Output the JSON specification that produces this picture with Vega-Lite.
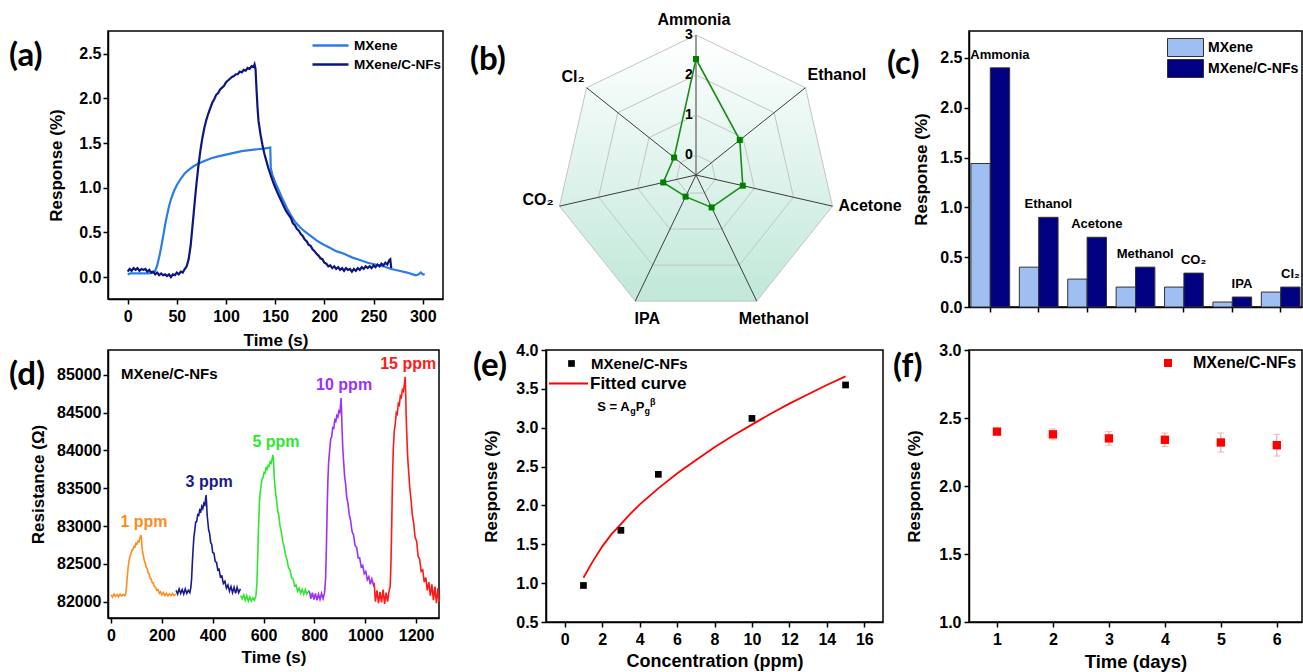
{
"$schema": "https://vega.github.io/schema/vega-lite/v6.json",
"background": "white",
"padding": {"left": 8, "top": 12, "right": 0, "bottom": 0},
"autosize": {"type": "pad"},
"columns": 5,
"spacing": {"row": 43, "column": 0},
"bounds": "flush",
"resolve": {"scale": {"color": "independent", "fill": "independent", "stroke": "independent"}, "legend": {"color": "independent", "fill": "independent", "stroke": "independent"}},
"config": {
  "font": "Liberation Sans",
  "view": {"stroke": "black", "strokeWidth": 1.5},
  "axis": {"grid": false, "domainColor": "black", "domainWidth": 1.5, "tickColor": "black", "tickWidth": 1.5, "tickSize": 5, "labelFont": "Liberation Sans", "labelFontWeight": "bold", "labelFontSize": 16, "labelColor": "black", "labelFlush": false, "labelOverlap": false, "titleFont": "Liberation Sans", "titleFontWeight": "bold", "titleFontSize": 17, "titleColor": "black"},
  "legend": {"labelFont": "Liberation Sans", "labelFontWeight": "bold", "labelColor": "black", "padding": 0},
  "title": {"font": "Lato", "fontSize": 33, "fontWeight": "bold", "color": "black", "anchor": "start", "frame": "group", "orient": "top", "offset": 0, "baseline": "middle"}
},
"datasets": {
  "gases": [
    {"gas": "Ammonia", "label": "Ammonia", "idx": 0, "MXene": 1.44, "MXene/C-NFs": 2.4},
    {"gas": "Ethanol", "label": "Ethanol", "idx": 1, "MXene": 0.40, "MXene/C-NFs": 0.9},
    {"gas": "Acetone", "label": "Acetone", "idx": 2, "MXene": 0.28, "MXene/C-NFs": 0.7},
    {"gas": "Methanol", "label": "Methanol", "idx": 3, "MXene": 0.20, "MXene/C-NFs": 0.4},
    {"gas": "CO2", "label": "CO₂", "idx": 5, "MXene": 0.20, "MXene/C-NFs": 0.34},
    {"gas": "IPA", "label": "IPA", "idx": 4, "MXene": 0.05, "MXene/C-NFs": 0.1},
    {"gas": "Cl2", "label": "Cl₂", "idx": 6, "MXene": 0.15, "MXene/C-NFs": 0.2}
  ],
  "rings": [
    {"level": 0, "idx": [0,1,2,3,4,5,6]},
    {"level": 1, "idx": [0,1,2,3,4,5,6]},
    {"level": 2, "idx": [0,1,2,3,4,5,6]},
    {"level": 3, "idx": [0,1,2,3,4,5,6]}
  ],
  "aresp": [
    {"t":0,"v":0.03,"s":"MXene"},{"t":3,"v":0.04,"s":"MXene"},{"t":6,"v":0.04,"s":"MXene"},{"t":10,"v":0.04,"s":"MXene"},{"t":14,"v":0.04,"s":"MXene"},{"t":18,"v":0.04,"s":"MXene"},{"t":22,"v":0.04,"s":"MXene"},{"t":26,"v":0.05,"s":"MXene"},{"t":28,"v":0.07,"s":"MXene"},{"t":30,"v":0.13,"s":"MXene"},{"t":32,"v":0.22,"s":"MXene"},{"t":34,"v":0.33,"s":"MXene"},{"t":36,"v":0.45,"s":"MXene"},{"t":38,"v":0.58,"s":"MXene"},{"t":40,"v":0.69,"s":"MXene"},{"t":42,"v":0.79,"s":"MXene"},{"t":44,"v":0.87,"s":"MXene"},{"t":47,"v":0.96,"s":"MXene"},{"t":50,"v":1.03,"s":"MXene"},{"t":54,"v":1.10,"s":"MXene"},{"t":58,"v":1.16,"s":"MXene"},{"t":62,"v":1.20,"s":"MXene"},{"t":67,"v":1.24,"s":"MXene"},{"t":72,"v":1.27,"s":"MXene"},{"t":78,"v":1.30,"s":"MXene"},{"t":85,"v":1.33,"s":"MXene"},{"t":92,"v":1.35,"s":"MXene"},{"t":100,"v":1.37,"s":"MXene"},{"t":108,"v":1.39,"s":"MXene"},{"t":116,"v":1.41,"s":"MXene"},{"t":124,"v":1.42,"s":"MXene"},{"t":132,"v":1.43,"s":"MXene"},{"t":140,"v":1.44,"s":"MXene"},{"t":145,"v":1.45,"s":"MXene"},{"t":145.5,"v":1.22,"s":"MXene"},{"t":147,"v":1.15,"s":"MXene"},{"t":150,"v":1.06,"s":"MXene"},{"t":154,"v":0.96,"s":"MXene"},{"t":158,"v":0.86,"s":"MXene"},{"t":162,"v":0.77,"s":"MXene"},{"t":166,"v":0.69,"s":"MXene"},{"t":170,"v":0.62,"s":"MXene"},{"t":175,"v":0.56,"s":"MXene"},{"t":180,"v":0.51,"s":"MXene"},{"t":186,"v":0.46,"s":"MXene"},{"t":192,"v":0.41,"s":"MXene"},{"t":198,"v":0.37,"s":"MXene"},{"t":205,"v":0.33,"s":"MXene"},{"t":212,"v":0.29,"s":"MXene"},{"t":220,"v":0.26,"s":"MXene"},{"t":228,"v":0.22,"s":"MXene"},{"t":236,"v":0.19,"s":"MXene"},{"t":244,"v":0.16,"s":"MXene"},{"t":252,"v":0.14,"s":"MXene"},{"t":260,"v":0.12,"s":"MXene"},{"t":268,"v":0.09,"s":"MXene"},{"t":276,"v":0.07,"s":"MXene"},{"t":284,"v":0.05,"s":"MXene"},{"t":290,"v":0.03,"s":"MXene"},{"t":293,"v":0.02,"s":"MXene"},{"t":296,"v":0.03,"s":"MXene"},{"t":298,"v":0.05,"s":"MXene"},{"t":300,"v":0.03,"s":"MXene"},{"t":302,"v":0.03,"s":"MXene"},
    {"t":0,"v":0.06,"s":"MXene/C-NFs"},{"t":2,"v":0.09,"s":"MXene/C-NFs"},{"t":4,"v":0.07,"s":"MXene/C-NFs"},{"t":6,"v":0.10,"s":"MXene/C-NFs"},{"t":8,"v":0.08,"s":"MXene/C-NFs"},{"t":10,"v":0.10,"s":"MXene/C-NFs"},{"t":12,"v":0.07,"s":"MXene/C-NFs"},{"t":14,"v":0.09,"s":"MXene/C-NFs"},{"t":16,"v":0.08,"s":"MXene/C-NFs"},{"t":18,"v":0.09,"s":"MXene/C-NFs"},{"t":20,"v":0.06,"s":"MXene/C-NFs"},{"t":22,"v":0.08,"s":"MXene/C-NFs"},{"t":24,"v":0.05,"s":"MXene/C-NFs"},{"t":26,"v":0.06,"s":"MXene/C-NFs"},{"t":28,"v":0.03,"s":"MXene/C-NFs"},{"t":30,"v":0.05,"s":"MXene/C-NFs"},{"t":32,"v":0.02,"s":"MXene/C-NFs"},{"t":34,"v":0.04,"s":"MXene/C-NFs"},{"t":36,"v":0.02,"s":"MXene/C-NFs"},{"t":38,"v":0.03,"s":"MXene/C-NFs"},{"t":40,"v":0.01,"s":"MXene/C-NFs"},{"t":42,"v":0.03,"s":"MXene/C-NFs"},{"t":44,"v":0.00,"s":"MXene/C-NFs"},{"t":46,"v":0.03,"s":"MXene/C-NFs"},{"t":48,"v":0.02,"s":"MXene/C-NFs"},{"t":50,"v":0.05,"s":"MXene/C-NFs"},{"t":52,"v":0.03,"s":"MXene/C-NFs"},{"t":54,"v":0.06,"s":"MXene/C-NFs"},{"t":56,"v":0.05,"s":"MXene/C-NFs"},{"t":58,"v":0.09,"s":"MXene/C-NFs"},{"t":60,"v":0.12,"s":"MXene/C-NFs"},{"t":62,"v":0.20,"s":"MXene/C-NFs"},{"t":64,"v":0.35,"s":"MXene/C-NFs"},{"t":66,"v":0.58,"s":"MXene/C-NFs"},{"t":68,"v":0.82,"s":"MXene/C-NFs"},{"t":70,"v":1.05,"s":"MXene/C-NFs"},{"t":72,"v":1.25,"s":"MXene/C-NFs"},{"t":74,"v":1.42,"s":"MXene/C-NFs"},{"t":76,"v":1.56,"s":"MXene/C-NFs"},{"t":78,"v":1.67,"s":"MXene/C-NFs"},{"t":80,"v":1.76,"s":"MXene/C-NFs"},{"t":82,"v":1.83,"s":"MXene/C-NFs"},{"t":84,"v":1.89,"s":"MXene/C-NFs"},{"t":86,"v":1.95,"s":"MXene/C-NFs"},{"t":88,"v":1.99,"s":"MXene/C-NFs"},{"t":90,"v":2.04,"s":"MXene/C-NFs"},{"t":92,"v":2.06,"s":"MXene/C-NFs"},{"t":94,"v":2.10,"s":"MXene/C-NFs"},{"t":96,"v":2.12,"s":"MXene/C-NFs"},{"t":98,"v":2.14,"s":"MXene/C-NFs"},{"t":100,"v":2.18,"s":"MXene/C-NFs"},{"t":102,"v":2.20,"s":"MXene/C-NFs"},{"t":104,"v":2.22,"s":"MXene/C-NFs"},{"t":106,"v":2.24,"s":"MXene/C-NFs"},{"t":108,"v":2.25,"s":"MXene/C-NFs"},{"t":110,"v":2.27,"s":"MXene/C-NFs"},{"t":112,"v":2.27,"s":"MXene/C-NFs"},{"t":114,"v":2.30,"s":"MXene/C-NFs"},{"t":116,"v":2.29,"s":"MXene/C-NFs"},{"t":118,"v":2.32,"s":"MXene/C-NFs"},{"t":120,"v":2.31,"s":"MXene/C-NFs"},{"t":122,"v":2.34,"s":"MXene/C-NFs"},{"t":124,"v":2.33,"s":"MXene/C-NFs"},{"t":126,"v":2.36,"s":"MXene/C-NFs"},{"t":128,"v":2.35,"s":"MXene/C-NFs"},{"t":129,"v":2.38,"s":"MXene/C-NFs"},{"t":130,"v":2.33,"s":"MXene/C-NFs"},{"t":131,"v":2.10,"s":"MXene/C-NFs"},{"t":132,"v":1.90,"s":"MXene/C-NFs"},{"t":133,"v":1.75,"s":"MXene/C-NFs"},{"t":135,"v":1.60,"s":"MXene/C-NFs"},{"t":137,"v":1.48,"s":"MXene/C-NFs"},{"t":139,"v":1.38,"s":"MXene/C-NFs"},{"t":141,"v":1.30,"s":"MXene/C-NFs"},{"t":143,"v":1.22,"s":"MXene/C-NFs"},{"t":146,"v":1.12,"s":"MXene/C-NFs"},{"t":149,"v":1.03,"s":"MXene/C-NFs"},{"t":152,"v":0.95,"s":"MXene/C-NFs"},{"t":155,"v":0.88,"s":"MXene/C-NFs"},{"t":158,"v":0.81,"s":"MXene/C-NFs"},{"t":161,"v":0.74,"s":"MXene/C-NFs"},{"t":164,"v":0.69,"s":"MXene/C-NFs"},{"t":166,"v":0.66,"s":"MXene/C-NFs"},{"t":168,"v":0.60,"s":"MXene/C-NFs"},{"t":170,"v":0.58,"s":"MXene/C-NFs"},{"t":172,"v":0.54,"s":"MXene/C-NFs"},{"t":174,"v":0.52,"s":"MXene/C-NFs"},{"t":176,"v":0.48,"s":"MXene/C-NFs"},{"t":178,"v":0.46,"s":"MXene/C-NFs"},{"t":180,"v":0.42,"s":"MXene/C-NFs"},{"t":182,"v":0.40,"s":"MXene/C-NFs"},{"t":184,"v":0.36,"s":"MXene/C-NFs"},{"t":186,"v":0.35,"s":"MXene/C-NFs"},{"t":188,"v":0.31,"s":"MXene/C-NFs"},{"t":190,"v":0.29,"s":"MXene/C-NFs"},{"t":192,"v":0.26,"s":"MXene/C-NFs"},{"t":194,"v":0.24,"s":"MXene/C-NFs"},{"t":196,"v":0.21,"s":"MXene/C-NFs"},{"t":198,"v":0.20,"s":"MXene/C-NFs"},{"t":200,"v":0.16,"s":"MXene/C-NFs"},{"t":202,"v":0.15,"s":"MXene/C-NFs"},{"t":204,"v":0.12,"s":"MXene/C-NFs"},{"t":206,"v":0.13,"s":"MXene/C-NFs"},{"t":208,"v":0.10,"s":"MXene/C-NFs"},{"t":210,"v":0.12,"s":"MXene/C-NFs"},{"t":212,"v":0.09,"s":"MXene/C-NFs"},{"t":214,"v":0.11,"s":"MXene/C-NFs"},{"t":216,"v":0.08,"s":"MXene/C-NFs"},{"t":218,"v":0.10,"s":"MXene/C-NFs"},{"t":220,"v":0.07,"s":"MXene/C-NFs"},{"t":222,"v":0.10,"s":"MXene/C-NFs"},{"t":224,"v":0.08,"s":"MXene/C-NFs"},{"t":226,"v":0.09,"s":"MXene/C-NFs"},{"t":228,"v":0.06,"s":"MXene/C-NFs"},{"t":230,"v":0.09,"s":"MXene/C-NFs"},{"t":232,"v":0.07,"s":"MXene/C-NFs"},{"t":234,"v":0.10,"s":"MXene/C-NFs"},{"t":236,"v":0.08,"s":"MXene/C-NFs"},{"t":238,"v":0.11,"s":"MXene/C-NFs"},{"t":240,"v":0.09,"s":"MXene/C-NFs"},{"t":242,"v":0.12,"s":"MXene/C-NFs"},{"t":244,"v":0.10,"s":"MXene/C-NFs"},{"t":246,"v":0.12,"s":"MXene/C-NFs"},{"t":248,"v":0.10,"s":"MXene/C-NFs"},{"t":250,"v":0.13,"s":"MXene/C-NFs"},{"t":252,"v":0.11,"s":"MXene/C-NFs"},{"t":254,"v":0.14,"s":"MXene/C-NFs"},{"t":256,"v":0.12,"s":"MXene/C-NFs"},{"t":258,"v":0.15,"s":"MXene/C-NFs"},{"t":260,"v":0.13,"s":"MXene/C-NFs"},{"t":262,"v":0.16,"s":"MXene/C-NFs"},{"t":264,"v":0.14,"s":"MXene/C-NFs"},{"t":266,"v":0.19,"s":"MXene/C-NFs"},{"t":267,"v":0.20,"s":"MXene/C-NFs"},{"t":268,"v":0.10,"s":"MXene/C-NFs"}
  ],
  "dres": [
    {"t":0,"r":82090,"c":"1 ppm"},{"t":6,"r":82060,"c":"1 ppm"},{"t":12,"r":82100,"c":"1 ppm"},{"t":18,"r":82070,"c":"1 ppm"},{"t":24,"r":82095,"c":"1 ppm"},{"t":30,"r":82065,"c":"1 ppm"},{"t":36,"r":82100,"c":"1 ppm"},{"t":42,"r":82075,"c":"1 ppm"},{"t":48,"r":82095,"c":"1 ppm"},{"t":54,"r":82080,"c":"1 ppm"},{"t":58,"r":82110,"c":"1 ppm"},{"t":61,"r":82200,"c":"1 ppm"},{"t":64,"r":82330,"c":"1 ppm"},{"t":67,"r":82440,"c":"1 ppm"},{"t":70,"r":82520,"c":"1 ppm"},{"t":74,"r":82590,"c":"1 ppm"},{"t":78,"r":82630,"c":"1 ppm"},{"t":82,"r":82680,"c":"1 ppm"},{"t":86,"r":82690,"c":"1 ppm"},{"t":90,"r":82730,"c":"1 ppm"},{"t":94,"r":82720,"c":"1 ppm"},{"t":98,"r":82770,"c":"1 ppm"},{"t":102,"r":82760,"c":"1 ppm"},{"t":106,"r":82800,"c":"1 ppm"},{"t":110,"r":82790,"c":"1 ppm"},{"t":114,"r":82840,"c":"1 ppm"},{"t":118,"r":82880,"c":"1 ppm"},{"t":120,"r":82820,"c":"1 ppm"},{"t":122,"r":82720,"c":"1 ppm"},{"t":125,"r":82640,"c":"1 ppm"},{"t":128,"r":82600,"c":"1 ppm"},{"t":131,"r":82540,"c":"1 ppm"},{"t":134,"r":82520,"c":"1 ppm"},{"t":138,"r":82460,"c":"1 ppm"},{"t":142,"r":82440,"c":"1 ppm"},{"t":146,"r":82380,"c":"1 ppm"},{"t":150,"r":82370,"c":"1 ppm"},{"t":154,"r":82310,"c":"1 ppm"},{"t":158,"r":82300,"c":"1 ppm"},{"t":162,"r":82250,"c":"1 ppm"},{"t":166,"r":82250,"c":"1 ppm"},{"t":170,"r":82200,"c":"1 ppm"},{"t":175,"r":82190,"c":"1 ppm"},{"t":180,"r":82150,"c":"1 ppm"},{"t":185,"r":82160,"c":"1 ppm"},{"t":190,"r":82110,"c":"1 ppm"},{"t":195,"r":82130,"c":"1 ppm"},{"t":200,"r":82090,"c":"1 ppm"},{"t":206,"r":82120,"c":"1 ppm"},{"t":212,"r":82080,"c":"1 ppm"},{"t":218,"r":82110,"c":"1 ppm"},{"t":224,"r":82075,"c":"1 ppm"},{"t":230,"r":82105,"c":"1 ppm"},{"t":236,"r":82080,"c":"1 ppm"},{"t":242,"r":82110,"c":"1 ppm"},{"t":248,"r":82080,"c":"1 ppm"},{"t":255,"r":82100,"c":"1 ppm"},
    {"t":256,"r":82150,"c":"3 ppm"},{"t":262,"r":82100,"c":"3 ppm"},{"t":268,"r":82170,"c":"3 ppm"},{"t":274,"r":82110,"c":"3 ppm"},{"t":280,"r":82160,"c":"3 ppm"},{"t":286,"r":82100,"c":"3 ppm"},{"t":292,"r":82170,"c":"3 ppm"},{"t":298,"r":82110,"c":"3 ppm"},{"t":304,"r":82150,"c":"3 ppm"},{"t":310,"r":82120,"c":"3 ppm"},{"t":314,"r":82190,"c":"3 ppm"},{"t":317,"r":82300,"c":"3 ppm"},{"t":320,"r":82520,"c":"3 ppm"},{"t":323,"r":82700,"c":"3 ppm"},{"t":326,"r":82850,"c":"3 ppm"},{"t":329,"r":82930,"c":"3 ppm"},{"t":333,"r":83050,"c":"3 ppm"},{"t":337,"r":83060,"c":"3 ppm"},{"t":341,"r":83150,"c":"3 ppm"},{"t":345,"r":83140,"c":"3 ppm"},{"t":349,"r":83210,"c":"3 ppm"},{"t":353,"r":83190,"c":"3 ppm"},{"t":357,"r":83260,"c":"3 ppm"},{"t":361,"r":83230,"c":"3 ppm"},{"t":365,"r":83300,"c":"3 ppm"},{"t":369,"r":83280,"c":"3 ppm"},{"t":372,"r":83360,"c":"3 ppm"},{"t":374,"r":83410,"c":"3 ppm"},{"t":376,"r":83300,"c":"3 ppm"},{"t":378,"r":83150,"c":"3 ppm"},{"t":381,"r":83050,"c":"3 ppm"},{"t":384,"r":82950,"c":"3 ppm"},{"t":388,"r":82900,"c":"3 ppm"},{"t":392,"r":82780,"c":"3 ppm"},{"t":396,"r":82760,"c":"3 ppm"},{"t":400,"r":82650,"c":"3 ppm"},{"t":405,"r":82640,"c":"3 ppm"},{"t":410,"r":82530,"c":"3 ppm"},{"t":415,"r":82520,"c":"3 ppm"},{"t":420,"r":82420,"c":"3 ppm"},{"t":425,"r":82430,"c":"3 ppm"},{"t":430,"r":82330,"c":"3 ppm"},{"t":436,"r":82340,"c":"3 ppm"},{"t":442,"r":82240,"c":"3 ppm"},{"t":448,"r":82270,"c":"3 ppm"},{"t":454,"r":82180,"c":"3 ppm"},{"t":460,"r":82220,"c":"3 ppm"},{"t":466,"r":82140,"c":"3 ppm"},{"t":472,"r":82200,"c":"3 ppm"},{"t":478,"r":82120,"c":"3 ppm"},{"t":484,"r":82190,"c":"3 ppm"},{"t":490,"r":82110,"c":"3 ppm"},{"t":496,"r":82190,"c":"3 ppm"},{"t":502,"r":82120,"c":"3 ppm"},{"t":509,"r":82170,"c":"3 ppm"},
    {"t":510,"r":82080,"c":"5 ppm"},{"t":516,"r":82040,"c":"5 ppm"},{"t":522,"r":82090,"c":"5 ppm"},{"t":528,"r":82020,"c":"5 ppm"},{"t":534,"r":82080,"c":"5 ppm"},{"t":540,"r":82010,"c":"5 ppm"},{"t":546,"r":82060,"c":"5 ppm"},{"t":552,"r":82010,"c":"5 ppm"},{"t":558,"r":82050,"c":"5 ppm"},{"t":564,"r":82020,"c":"5 ppm"},{"t":570,"r":82080,"c":"5 ppm"},{"t":574,"r":82250,"c":"5 ppm"},{"t":577,"r":82600,"c":"5 ppm"},{"t":580,"r":82950,"c":"5 ppm"},{"t":583,"r":83250,"c":"5 ppm"},{"t":586,"r":83420,"c":"5 ppm"},{"t":590,"r":83530,"c":"5 ppm"},{"t":594,"r":83620,"c":"5 ppm"},{"t":598,"r":83640,"c":"5 ppm"},{"t":602,"r":83710,"c":"5 ppm"},{"t":606,"r":83700,"c":"5 ppm"},{"t":610,"r":83770,"c":"5 ppm"},{"t":614,"r":83750,"c":"5 ppm"},{"t":618,"r":83800,"c":"5 ppm"},{"t":622,"r":83790,"c":"5 ppm"},{"t":626,"r":83850,"c":"5 ppm"},{"t":630,"r":83830,"c":"5 ppm"},{"t":634,"r":83890,"c":"5 ppm"},{"t":637,"r":83940,"c":"5 ppm"},{"t":639,"r":83860,"c":"5 ppm"},{"t":642,"r":83650,"c":"5 ppm"},{"t":645,"r":83520,"c":"5 ppm"},{"t":648,"r":83420,"c":"5 ppm"},{"t":652,"r":83320,"c":"5 ppm"},{"t":656,"r":83200,"c":"5 ppm"},{"t":660,"r":83140,"c":"5 ppm"},{"t":665,"r":83000,"c":"5 ppm"},{"t":670,"r":82920,"c":"5 ppm"},{"t":675,"r":82800,"c":"5 ppm"},{"t":680,"r":82740,"c":"5 ppm"},{"t":686,"r":82620,"c":"5 ppm"},{"t":692,"r":82560,"c":"5 ppm"},{"t":698,"r":82450,"c":"5 ppm"},{"t":704,"r":82420,"c":"5 ppm"},{"t":710,"r":82320,"c":"5 ppm"},{"t":716,"r":82300,"c":"5 ppm"},{"t":722,"r":82210,"c":"5 ppm"},{"t":728,"r":82220,"c":"5 ppm"},{"t":734,"r":82140,"c":"5 ppm"},{"t":740,"r":82180,"c":"5 ppm"},{"t":746,"r":82110,"c":"5 ppm"},{"t":752,"r":82160,"c":"5 ppm"},{"t":758,"r":82100,"c":"5 ppm"},{"t":764,"r":82160,"c":"5 ppm"},{"t":770,"r":82100,"c":"5 ppm"},{"t":779,"r":82150,"c":"5 ppm"},
    {"t":780,"r":82140,"c":"10 ppm"},{"t":786,"r":82040,"c":"10 ppm"},{"t":792,"r":82120,"c":"10 ppm"},{"t":798,"r":82030,"c":"10 ppm"},{"t":804,"r":82110,"c":"10 ppm"},{"t":810,"r":82020,"c":"10 ppm"},{"t":816,"r":82100,"c":"10 ppm"},{"t":822,"r":82030,"c":"10 ppm"},{"t":828,"r":82110,"c":"10 ppm"},{"t":834,"r":82040,"c":"10 ppm"},{"t":840,"r":82120,"c":"10 ppm"},{"t":844,"r":82300,"c":"10 ppm"},{"t":847,"r":82700,"c":"10 ppm"},{"t":850,"r":83200,"c":"10 ppm"},{"t":853,"r":83600,"c":"10 ppm"},{"t":856,"r":83850,"c":"10 ppm"},{"t":860,"r":84000,"c":"10 ppm"},{"t":864,"r":84150,"c":"10 ppm"},{"t":868,"r":84180,"c":"10 ppm"},{"t":872,"r":84300,"c":"10 ppm"},{"t":876,"r":84290,"c":"10 ppm"},{"t":880,"r":84400,"c":"10 ppm"},{"t":884,"r":84380,"c":"10 ppm"},{"t":888,"r":84460,"c":"10 ppm"},{"t":892,"r":84440,"c":"10 ppm"},{"t":896,"r":84520,"c":"10 ppm"},{"t":900,"r":84500,"c":"10 ppm"},{"t":903,"r":84600,"c":"10 ppm"},{"t":905,"r":84690,"c":"10 ppm"},{"t":907,"r":84500,"c":"10 ppm"},{"t":909,"r":84250,"c":"10 ppm"},{"t":912,"r":84000,"c":"10 ppm"},{"t":915,"r":83850,"c":"10 ppm"},{"t":919,"r":83650,"c":"10 ppm"},{"t":923,"r":83550,"c":"10 ppm"},{"t":927,"r":83380,"c":"10 ppm"},{"t":932,"r":83300,"c":"10 ppm"},{"t":937,"r":83150,"c":"10 ppm"},{"t":942,"r":83080,"c":"10 ppm"},{"t":948,"r":82930,"c":"10 ppm"},{"t":954,"r":82880,"c":"10 ppm"},{"t":960,"r":82740,"c":"10 ppm"},{"t":966,"r":82720,"c":"10 ppm"},{"t":972,"r":82580,"c":"10 ppm"},{"t":978,"r":82580,"c":"10 ppm"},{"t":984,"r":82460,"c":"10 ppm"},{"t":990,"r":82480,"c":"10 ppm"},{"t":996,"r":82370,"c":"10 ppm"},{"t":1002,"r":82400,"c":"10 ppm"},{"t":1008,"r":82290,"c":"10 ppm"},{"t":1014,"r":82330,"c":"10 ppm"},{"t":1020,"r":82230,"c":"10 ppm"},{"t":1026,"r":82300,"c":"10 ppm"},{"t":1034,"r":82200,"c":"10 ppm"},
    {"t":1035,"r":82250,"c":"15 ppm"},{"t":1040,"r":82000,"c":"15 ppm"},{"t":1046,"r":82150,"c":"15 ppm"},{"t":1052,"r":81980,"c":"15 ppm"},{"t":1058,"r":82130,"c":"15 ppm"},{"t":1064,"r":81990,"c":"15 ppm"},{"t":1070,"r":82160,"c":"15 ppm"},{"t":1076,"r":81970,"c":"15 ppm"},{"t":1082,"r":82120,"c":"15 ppm"},{"t":1088,"r":82000,"c":"15 ppm"},{"t":1094,"r":82150,"c":"15 ppm"},{"t":1098,"r":82200,"c":"15 ppm"},{"t":1101,"r":82500,"c":"15 ppm"},{"t":1104,"r":83000,"c":"15 ppm"},{"t":1107,"r":83600,"c":"15 ppm"},{"t":1110,"r":84000,"c":"15 ppm"},{"t":1114,"r":84250,"c":"15 ppm"},{"t":1118,"r":84350,"c":"15 ppm"},{"t":1122,"r":84500,"c":"15 ppm"},{"t":1126,"r":84480,"c":"15 ppm"},{"t":1130,"r":84620,"c":"15 ppm"},{"t":1134,"r":84600,"c":"15 ppm"},{"t":1138,"r":84720,"c":"15 ppm"},{"t":1142,"r":84700,"c":"15 ppm"},{"t":1146,"r":84800,"c":"15 ppm"},{"t":1150,"r":84780,"c":"15 ppm"},{"t":1154,"r":84880,"c":"15 ppm"},{"t":1157,"r":84970,"c":"15 ppm"},{"t":1159,"r":84750,"c":"15 ppm"},{"t":1161,"r":84450,"c":"15 ppm"},{"t":1164,"r":84150,"c":"15 ppm"},{"t":1167,"r":83900,"c":"15 ppm"},{"t":1171,"r":83700,"c":"15 ppm"},{"t":1175,"r":83500,"c":"15 ppm"},{"t":1180,"r":83350,"c":"15 ppm"},{"t":1185,"r":83150,"c":"15 ppm"},{"t":1190,"r":83050,"c":"15 ppm"},{"t":1196,"r":82850,"c":"15 ppm"},{"t":1202,"r":82800,"c":"15 ppm"},{"t":1208,"r":82600,"c":"15 ppm"},{"t":1214,"r":82560,"c":"15 ppm"},{"t":1220,"r":82400,"c":"15 ppm"},{"t":1226,"r":82420,"c":"15 ppm"},{"t":1232,"r":82260,"c":"15 ppm"},{"t":1238,"r":82320,"c":"15 ppm"},{"t":1244,"r":82150,"c":"15 ppm"},{"t":1250,"r":82260,"c":"15 ppm"},{"t":1256,"r":82080,"c":"15 ppm"},{"t":1262,"r":82230,"c":"15 ppm"},{"t":1268,"r":82020,"c":"15 ppm"},{"t":1274,"r":82200,"c":"15 ppm"},{"t":1280,"r":81980,"c":"15 ppm"},{"t":1286,"r":82180,"c":"15 ppm"},{"t":1290,"r":82000,"c":"15 ppm"}
  ],
  "conc": [
    {"p":1,"s":0.97},{"p":3,"s":1.68},{"p":5,"s":2.40},{"p":10,"s":3.12},{"p":15,"s":3.55}
  ],
  "fit": [
    {"p":1,"s":1.07},{"p":1.5,"s":1.28},{"p":2,"s":1.47},{"p":2.5,"s":1.63},{"p":3,"s":1.76},{"p":3.5,"s":1.89},{"p":4,"s":2.01},{"p":5,"s":2.22},{"p":6,"s":2.41},{"p":7,"s":2.58},{"p":8,"s":2.75},{"p":9,"s":2.90},{"p":10,"s":3.04},{"p":11,"s":3.18},{"p":12,"s":3.31},{"p":13,"s":3.43},{"p":14,"s":3.55},{"p":15,"s":3.66}
  ],
  "stab": [
    {"day":1,"v":2.40,"err":0.01},{"day":2,"v":2.38,"err":0.04},{"day":3,"v":2.35,"err":0.05},{"day":4,"v":2.34,"err":0.05},{"day":5,"v":2.32,"err":0.07},{"day":6,"v":2.30,"err":0.08}
  ]
},
"concat": [
  {
    "width": 335, "height": 268,
    "title": {"text": "(a)", "dx": -99, "dy": 46},
    "data": {"name": "aresp"},
    "mark": {"type": "line", "strokeWidth": 2.2},
    "encoding": {
      "x": {"field": "t", "type": "quantitative", "scale": {"domain": [-20, 320.6], "nice": false, "zero": false}, "axis": {"values": [0,50,100,150,200,250,300], "format": "d", "title": "Time (s)", "labelPadding": 4, "titlePadding": 8, "labelOverlap": false}},
      "y": {"field": "v", "type": "quantitative", "scale": {"domain": [-0.246, 2.754], "nice": false, "zero": false}, "axis": {"values": [0,0.5,1,1.5,2,2.5], "format": ".1f", "title": "Response (%)", "labelPadding": 2, "titlePadding": 13, "labelOverlap": false}},
      "color": {"field": "s", "type": "nominal", "scale": {"domain": ["MXene", "MXene/C-NFs"], "range": ["#2a7de6", "#0c1680"]}, "legend": {"title": null, "orient": "none", "legendX": 212, "legendY": 4, "symbolType": "M-2,0H2", "symbolSize": 324, "symbolStrokeWidth": 2.5, "labelFontSize": 13.5, "labelOffset": 13, "rowPadding": 2}}
    }
  },
  {"width": 103, "height": 1, "view": {"stroke": null}, "data": {"values": [{"a": 1}]}, "mark": {"type": "point", "opacity": 0}, "encoding": {}},
  {
    "width": 337, "height": 268,
    "view": {"stroke": null},
    "title": {"text": "(b)", "dx": -76, "dy": 69},
    "encoding": {
      "x": {"field": "x", "type": "quantitative", "scale": {"domain": [-3.75, 4.675], "nice": false, "zero": false}, "axis": null},
      "y": {"field": "y", "type": "quantitative", "scale": {"domain": [-3.1, 3.6], "nice": false, "zero": false}, "axis": null}
    },
    "layer": [
      {
        "data": {"name": "rings"},
        "transform": [{"filter": "datum.level == 3"}, {"flatten": ["idx"]}, {"calculate": "(datum.level + 0.5) * sin(datum.idx * 2 * PI / 7)", "as": "x"}, {"calculate": "(datum.level + 0.5) * cos(datum.idx * 2 * PI / 7)", "as": "y"}],
        "mark": {"type": "line", "interpolate": "linear-closed", "strokeWidth": 0, "fill": {"gradient": "linear", "x1": 0, "y1": 0, "x2": 0, "y2": 1, "stops": [{"offset": 0, "color": "#ffffff"}, {"offset": 1, "color": "#c0e8d9"}]}},
        "encoding": {"order": {"field": "idx", "type": "quantitative"}}
      },
      {
        "data": {"name": "rings"},
        "transform": [{"flatten": ["idx"]}, {"calculate": "(datum.level + 0.5) * sin(datum.idx * 2 * PI / 7)", "as": "x"}, {"calculate": "(datum.level + 0.5) * cos(datum.idx * 2 * PI / 7)", "as": "y"}],
        "mark": {"type": "line", "interpolate": "linear-closed", "stroke": "#c4c4c4", "strokeWidth": 1},
        "encoding": {
          "detail": {"field": "level", "type": "nominal"},
          "order": {"field": "idx", "type": "quantitative"}
        }
      },
      {
        "data": {"name": "rings"},
        "transform": [{"filter": "datum.level == 3"}, {"flatten": ["idx"]}, {"calculate": "(datum.level + 0.5) * sin(datum.idx * 2 * PI / 7)", "as": "vx"}, {"calculate": "(datum.level + 0.5) * cos(datum.idx * 2 * PI / 7)", "as": "vy"}, {"calculate": "0", "as": "x"}, {"calculate": "0", "as": "y"}],
        "mark": {"type": "rule", "stroke": {"expr": "datum.idx == 0 ? '#999999' : '#3c3c3c'"}, "strokeWidth": {"expr": "datum.idx == 0 ? 2 : 1"}},
        "encoding": {
          "x2": {"field": "vx"},
          "y2": {"field": "vy"}
        }
      },
      {
        "data": {"name": "rings"},
        "transform": [{"flatten": ["idx"]}, {"filter": "datum.idx == 0"}, {"calculate": "datum.level + 0.5", "as": "y"}, {"calculate": "0", "as": "x"}],
        "mark": {"type": "text", "fontSize": 14, "fontWeight": "bold", "dx": -7, "baseline": "middle", "align": "center"},
        "encoding": {"text": {"field": "level", "type": "nominal"}}
      },
      {
        "data": {"name": "gases"},
        "transform": [{"calculate": "(datum['MXene/C-NFs'] + 0.5) * sin(datum.idx * 2 * PI / 7)", "as": "x"}, {"calculate": "(datum['MXene/C-NFs'] + 0.5) * cos(datum.idx * 2 * PI / 7)", "as": "y"}],
        "mark": {"type": "line", "interpolate": "linear-closed", "stroke": "#1a8c1a", "strokeWidth": 1.6},
        "encoding": {"order": {"field": "idx", "type": "quantitative"}}
      },
      {
        "data": {"name": "gases"},
        "transform": [{"calculate": "(datum['MXene/C-NFs'] + 0.5) * sin(datum.idx * 2 * PI / 7)", "as": "x"}, {"calculate": "(datum['MXene/C-NFs'] + 0.5) * cos(datum.idx * 2 * PI / 7)", "as": "y"}],
        "mark": {"type": "point", "shape": "square", "filled": true, "size": 36, "color": "#008000", "opacity": 1}
      },
      {
        "data": {"name": "gases"},
        "transform": [{"calculate": "3.5 * sin(datum.idx * 2 * PI / 7)", "as": "x"}, {"calculate": "3.5 * cos(datum.idx * 2 * PI / 7)", "as": "y"}],
        "mark": {"type": "text", "fontSize": 16, "fontWeight": "bold", "color": "black",
          "align": {"expr": "datum.idx == 0 || datum.idx == 3 || datum.idx == 4 ? 'center' : (datum.idx < 3 ? 'left' : 'right')"},
          "baseline": {"expr": "datum.idx == 2 || datum.idx == 5 ? 'middle' : (datum.idx == 3 || datum.idx == 4 ? 'top' : 'bottom')"},
          "dx": {"expr": "datum.idx == 1 ? 2 : datum.idx == 2 ? 6 : datum.idx == 5 ? -6 : datum.idx == 6 ? -2 : datum.idx == 3 ? 17 : datum.idx == 4 ? 12 : -2"},
          "dy": {"expr": "datum.idx == 0 ? -7 : datum.idx == 1 ? -5 : datum.idx == 6 ? -3 : datum.idx == 5 ? -6 : datum.idx == 3 || datum.idx == 4 ? 10 : 0"}},
        "encoding": {"text": {"field": "label", "type": "nominal"}}
      }
    ]
  },
  {"width": 86, "height": 1, "view": {"stroke": null}, "data": {"values": [{"a": 1}]}, "mark": {"type": "point", "opacity": 0}, "encoding": {}},
  {
    "width": 333, "height": 276,
    "title": {"text": "(c)", "dx": -82, "dy": 54},
    "data": {"name": "gases"},
    "transform": [{"fold": ["MXene", "MXene/C-NFs"], "as": ["series", "value"]}],
    "encoding": {
      "x": {"field": "gas", "type": "nominal", "sort": null, "scale": {"paddingInner": 0.2, "paddingOuter": 0.04}, "axis": {"labels": false, "title": null, "ticks": true}},
      "xOffset": {"field": "series", "type": "nominal", "sort": ["MXene", "MXene/C-NFs"], "scale": {"paddingInner": 0, "paddingOuter": 0}},
      "y": {"field": "value", "type": "quantitative", "scale": {"domain": [0, 2.77], "nice": false}, "axis": {"values": [0,0.5,1,1.5,2,2.5], "format": ".1f", "title": "Response (%)", "labelPadding": 2, "titlePadding": 9, "labelOverlap": false}}
    },
    "layer": [
      {
        "mark": {"type": "bar", "stroke": "#333333", "strokeWidth": 1},
        "encoding": {
          "fill": {"field": "series", "type": "nominal", "scale": {"domain": ["MXene", "MXene/C-NFs"], "range": ["#9fbff3", "#000080"]}, "legend": {"title": null, "orient": "none", "legendX": 207, "legendY": 7, "symbolType": "M-2,-1H2V1H-2Z", "symbolSize": 324, "symbolStrokeColor": "#333333", "symbolStrokeWidth": 1, "symbolOpacity": 1, "labelFontSize": 14, "labelOffset": 13, "rowPadding": -4}}
        }
      },
      {
        "transform": [{"filter": "datum.series == 'MXene/C-NFs'"}],
        "mark": {"type": "text", "fontSize": 13, "fontWeight": "bold", "dy": -13, "baseline": "middle", "clip": true, "color": "black"},
        "encoding": {"text": {"field": "label", "type": "nominal"}}
      }
    ]
  },
  {
    "width": 331, "height": 268,
    "title": {"text": "(d)", "dx": -99, "dy": 46},
    "encoding": {
      "x": {"field": "t", "type": "quantitative", "scale": {"domain": [-11.8, 1290], "nice": false, "zero": false}, "axis": {"values": [0,200,400,600,800,1000,1200], "format": "d", "title": "Time (s)", "labelPadding": 4, "titlePadding": 6, "labelOverlap": false}},
      "y": {"field": "r", "type": "quantitative", "scale": {"domain": [81785, 85326], "nice": false, "zero": false}, "axis": {"values": [82000,82500,83000,83500,84000,84500,85000], "format": "d", "title": "Resistance (Ω)", "labelPadding": 2, "titlePadding": 9, "labelOverlap": false}}
    },
    "layer": [
      {
        "data": {"name": "dres"},
        "mark": {"type": "line", "strokeWidth": 1.6},
        "encoding": {
          "color": {"field": "c", "type": "nominal", "scale": {"domain": ["1 ppm", "3 ppm", "5 ppm", "10 ppm", "15 ppm"], "range": ["#ff8c1a", "#1a1a8c", "#2ee82e", "#9b30ff", "#ff1a1a"]}, "legend": null}
        }
      },
      {
        "data": {"name": "dres"},
        "transform": [{"joinaggregate": [{"op": "max", "field": "r", "as": "rmax"}], "groupby": ["c"]}, {"filter": "datum.r == datum.rmax"}],
        "mark": {"type": "text", "fontSize": 16, "fontWeight": "bold", "dy": -13, "dx": 3, "baseline": "middle"},
        "encoding": {
          "text": {"field": "c", "type": "nominal"},
          "color": {"field": "c", "type": "nominal", "legend": null}
        }
      },
      {
        "data": {"values": [{"label": "MXene/C-NFs", "t": 39, "r": 85010}]},
        "mark": {"type": "text", "fontSize": 15, "fontWeight": "bold", "align": "left", "baseline": "middle", "color": "black"},
        "encoding": {"text": {"field": "label", "type": "nominal"}}
      }
    ]
  },
  {"width": 103, "height": 1, "view": {"stroke": null}, "data": {"values": [{"a": 1}]}, "mark": {"type": "point", "opacity": 0}, "encoding": {}},
  {
    "width": 337, "height": 272,
    "title": {"text": "(e)", "dx": -73, "dy": 45},
    "encoding": {
      "x": {"field": "p", "type": "quantitative", "scale": {"domain": [-1, 17], "nice": false, "zero": false}, "axis": {"values": [0,2,4,6,8,10,12,14,16], "format": "d", "title": "Concentration (ppm)", "titleFontSize": 18, "labelPadding": 4, "titlePadding": 5, "labelOverlap": false}},
      "y": {"field": "s", "type": "quantitative", "scale": {"domain": [0.5, 4.0], "nice": false, "zero": false}, "axis": {"values": [0.5,1,1.5,2,2.5,3,3.5,4], "format": ".1f", "title": "Response (%)", "labelPadding": 3, "titlePadding": 15, "labelOverlap": false}}
    },
    "layer": [
      {
        "data": {"name": "fit"},
        "mark": {"type": "line", "strokeWidth": 1.8},
        "encoding": {
          "stroke": {"datum": "Fitted curve", "type": "nominal", "scale": {"range": ["#ff0000"]}, "legend": {"title": null, "orient": "none", "legendX": 2, "legendY": 13, "symbolType": "stroke", "symbolSize": 1521, "symbolStrokeWidth": 2, "labelFontSize": 17, "labelOffset": 1}}
        }
      },
      {
        "data": {"name": "conc"},
        "mark": {"type": "point", "shape": "square", "filled": true, "size": 45, "opacity": 1},
        "encoding": {
          "fill": {"datum": "MXene/C-NFs", "type": "nominal", "scale": {"range": ["#000000"]}, "legend": {"title": null, "orient": "none", "legendX": 18, "legendY": 6, "symbolType": "square", "symbolSize": 45, "symbolOpacity": 1, "labelFontSize": 15, "labelOffset": 12}}
        }
      },
      {"data": {"values": [{"p": 1.74, "s": 3.27, "t": "S = A"}]}, "mark": {"type": "text", "fontSize": 13, "fontWeight": "bold", "align": "left", "baseline": "middle", "color": "black"}, "encoding": {"text": {"field": "t"}}},
      {"data": {"values": [{"p": 1.74, "s": 3.27, "t": "g"}]}, "mark": {"type": "text", "fontSize": 9, "fontWeight": "bold", "align": "left", "baseline": "middle", "color": "black", "dx": 33, "dy": 4}, "encoding": {"text": {"field": "t"}}},
      {"data": {"values": [{"p": 1.74, "s": 3.27, "t": "P"}]}, "mark": {"type": "text", "fontSize": 13, "fontWeight": "bold", "align": "left", "baseline": "middle", "color": "black", "dx": 38.5}, "encoding": {"text": {"field": "t"}}},
      {"data": {"values": [{"p": 1.74, "s": 3.27, "t": "g"}]}, "mark": {"type": "text", "fontSize": 9, "fontWeight": "bold", "align": "left", "baseline": "middle", "color": "black", "dx": 47.2, "dy": 4}, "encoding": {"text": {"field": "t"}}},
      {"data": {"values": [{"p": 1.74, "s": 3.27, "t": "β"}]}, "mark": {"type": "text", "fontSize": 9, "fontWeight": "bold", "align": "left", "baseline": "middle", "color": "black", "dx": 52.7, "dy": -5}, "encoding": {"text": {"field": "t"}}}
    ]
  },
  {"width": 86, "height": 1, "view": {"stroke": null}, "data": {"values": [{"a": 1}]}, "mark": {"type": "point", "opacity": 0}, "encoding": {}},
  {
    "width": 333, "height": 272,
    "title": {"text": "(f)", "dx": -76, "dy": 46},
    "data": {"name": "stab"},
    "encoding": {
      "x": {"field": "day", "type": "quantitative", "scale": {"domain": [0.5, 6.45], "nice": false, "zero": false}, "axis": {"values": [1,2,3,4,5,6], "format": "d", "title": "Time (days)", "titleFontSize": 18.5, "labelPadding": 4, "titlePadding": 5, "labelOverlap": false}},
      "y": {"field": "v", "type": "quantitative", "scale": {"domain": [1, 3], "nice": false, "zero": false}, "axis": {"values": [1,1.5,2,2.5,3], "format": ".1f", "title": "Response (%)", "labelPadding": 3, "titlePadding": 15, "labelOverlap": false}}
    },
    "layer": [
      {
        "mark": {"type": "errorbar", "ticks": {"size": 7, "thickness": 1}, "color": "#f39a9a", "thickness": 1},
        "encoding": {"yError": {"field": "err"}}
      },
      {
        "mark": {"type": "point", "shape": "square", "filled": true, "size": 70, "opacity": 1},
        "encoding": {
          "fill": {"datum": "MXene/C-NFs", "type": "nominal", "scale": {"range": ["#ff0000"]}, "legend": {"title": null, "orient": "top-right", "offset": 5, "symbolType": "square", "symbolSize": 64, "symbolOpacity": 1, "labelFontSize": 16, "labelOffset": 17}}
        }
      }
    ]
  }
]
}
